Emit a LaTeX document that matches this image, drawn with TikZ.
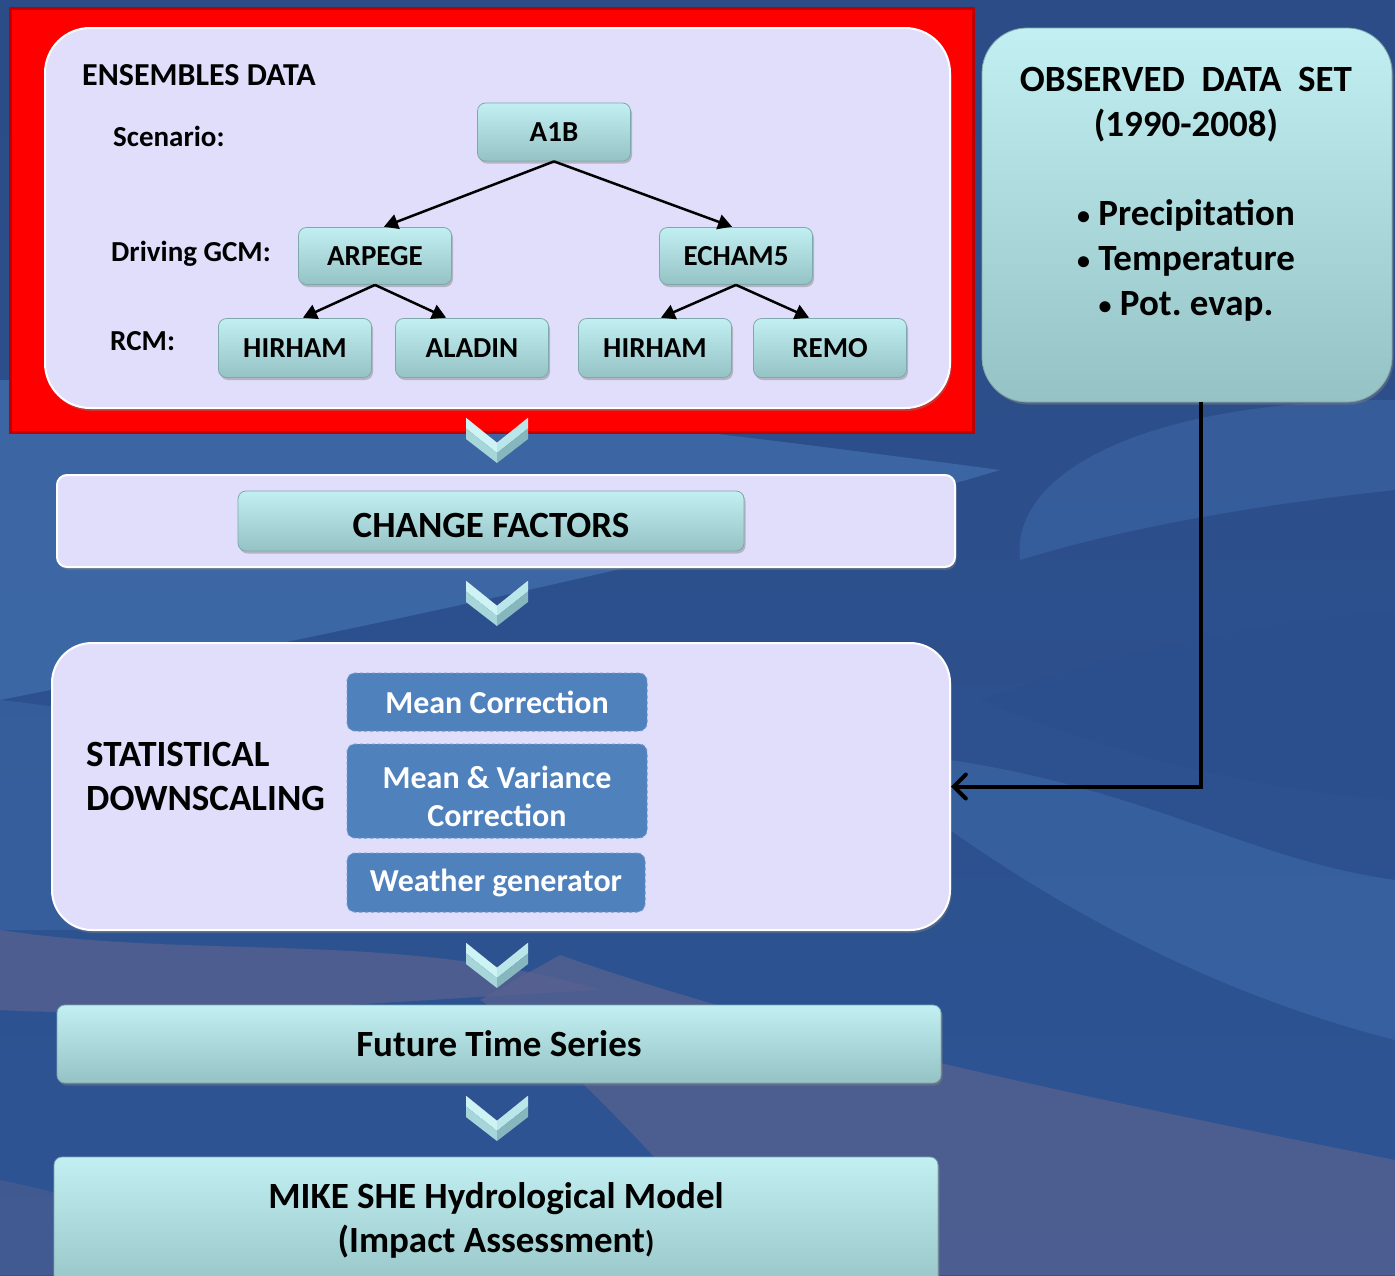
\documentclass[tikz,border=0pt]{standalone}
\usepackage{fontspec}
\setmainfont{Carlito}
\usetikzlibrary{arrows.meta,shadows}
\frenchspacing

\definecolor{bgtop}{HTML}{2B4C86}
\definecolor{bgmid}{HTML}{3E6DB4}
\definecolor{bgbot}{HTML}{2E5494}
\definecolor{bglight}{HTML}{5A92D2}
\definecolor{bgdark}{HTML}{2A4E8C}
\definecolor{bgpurple}{HTML}{5A6290}
\definecolor{tealtop}{HTML}{C2F0F2}
\definecolor{tealbot}{HTML}{95C3C5}
\definecolor{tealedge}{HTML}{7FA8AC}
\definecolor{lav}{HTML}{E0DEFA}
\definecolor{methodblue}{HTML}{4F81BD}
\definecolor{methodedge}{HTML}{6F98CA}
\definecolor{redframe}{HTML}{FF0000}
\definecolor{redborder}{HTML}{C00000}
\definecolor{chevA}{HTML}{CDF3F4}
\definecolor{chevB}{HTML}{A6D6DA}
\definecolor{chevC}{HTML}{B9E6E9}
\definecolor{chevD}{HTML}{86B6BE}

\newcommand{\fs}[1]{\fontsize{#1}{#1}\selectfont}
\newcommand{\smallbullet}{{\fontsize{26}{26}\selectfont\raisebox{1pt}{•}}}

\begin{document}
\begin{tikzpicture}[x=1pt,y=-1pt,
  tealbox/.style={rounded corners=8pt, draw=tealedge, line width=0.8pt,
    top color=tealtop, bottom color=tealbot,
    drop shadow={opacity=0.45, shadow xshift=1.5pt, shadow yshift=-2.5pt},
    inner sep=0pt, text=black, font=\bfseries\fs{29}},
  panel/.style={draw=white, line width=2pt, fill=lav,
    drop shadow={opacity=0.4, shadow xshift=1.5pt, shadow yshift=-3pt},
    inner sep=0pt},
  method/.style={rounded corners=8pt, fill=methodblue, draw=methodedge,
    dashed, line width=1pt, minimum width=300pt, inner sep=0pt,
    text=white, font=\bfseries\fontsize{32}{38}\selectfont, align=center},
  lbl/.style={anchor=west, inner sep=0pt, font=\bfseries\fs{29}},
  plain/.style={inner sep=0pt, align=center},
  treearrow/.style={line width=2.5pt, -{Triangle[length=14pt,width=15pt]},
    shorten >=1pt},
  chev/.pic={
    \fill[chevA] (-31,-22) -- (0,3) -- (0,13) -- (-31,-11.5) -- cycle;
    \fill[chevB] (-31,-11.5) -- (0,13) -- (0,23) -- (-31,-1) -- cycle;
    \fill[chevC] (31,-22) -- (0,3) -- (0,13) -- (31,-11.5) -- cycle;
    \fill[chevD] (31,-11.5) -- (0,13) -- (0,23) -- (31,-1) -- cycle;
    \draw[white, opacity=0.5, line width=0.6pt]
      (-31,-22) -- (0,3) -- (31,-22);
  }]

\useasboundingbox (0,0) rectangle (1395,1275);
\clip (0,0) rectangle (1395,1275);

% backdrop with soft bands
\shade[top color=bgtop, middle color=bgmid, bottom color=bgbot]
  (0,0) rectangle (1395,1275);
\fill[bglight, opacity=0.35]
  (0,380) .. controls (300,380) and (700,430) .. (1000,470)
  .. controls (700,560) and (300,640) .. (0,700) -- cycle;
\fill[bglight, opacity=0.2]
  (0,700) .. controls (200,720) and (400,800) .. (700,930)
  -- (0,930) -- cycle;
\fill[bglight, opacity=0.22]
  (1395,400) .. controls (1150,400) and (1010,470) .. (1020,560)
  .. controls (1150,520) and (1300,500) .. (1395,490) -- cycle;
\fill[bgdark, opacity=0.45]
  (980,700) .. controls (1150,640) and (1300,620) .. (1395,610)
  -- (1395,800) .. controls (1250,790) and (1100,750) .. (980,700) -- cycle;
\fill[bglight, opacity=0.22]
  (950,760) .. controls (1150,790) and (1250,860) .. (1395,880)
  -- (1395,1040) .. controls (1200,990) and (1050,900) .. (950,830) -- cycle;
\fill[bgpurple, opacity=0.75]
  (0,930) .. controls (200,960) and (400,930) .. (600,990)
  .. controls (400,1000) and (200,1020) .. (0,1010) -- cycle;
\fill[bgpurple, opacity=0.7]
  (560,955) .. controls (800,1040) and (1100,1100) .. (1395,1160)
  -- (1395,1275) -- (760,1275) .. controls (650,1150) and (560,1050) .. (480,1000) -- cycle;
\fill[bgpurple, opacity=0.45]
  (0,1180) .. controls (100,1200) and (200,1240) .. (300,1275) -- (0,1275) -- cycle;

% red frame behind the ensemble panel
\draw[fill=redframe, draw=redborder, line width=3pt] (10,8) rectangle (973,432);

% ensemble panel and tree
\node[panel, rounded corners=45pt, minimum width=905pt, minimum height=380pt]
  (ens) at (497.5,218) {};
\node[lbl, font=\bfseries\fs{32}] (enstitle) at (82,75) {ENSEMBLES DATA};
\node[lbl] (scen) at (113,136) {Scenario:};
\node[lbl] (gcm) at (111,254) {Driving GCM:};
\node[lbl] (rcm) at (110,341) {RCM:};

\node[tealbox, minimum width=153pt, minimum height=58pt] (a1b) at (554,132) {A1B};
\node[tealbox, minimum width=153pt, minimum height=57pt] (arpege) at (375,256) {ARPEGE};
\node[tealbox, minimum width=153pt, minimum height=57pt] (echam) at (736,256) {ECHAM5};
\node[tealbox, minimum width=153pt, minimum height=59pt] (hir1) at (295,348) {HIRHAM};
\node[tealbox, minimum width=153pt, minimum height=59pt] (alad) at (472,348) {ALADIN};
\node[tealbox, minimum width=153pt, minimum height=59pt] (hir2) at (655,348) {HIRHAM};
\node[tealbox, minimum width=153pt, minimum height=59pt] (remo) at (830,348) {REMO};

\draw[treearrow] (a1b.south) -- ([xshift=8pt]arpege.north);
\draw[treearrow] (a1b.south) -- ([xshift=-3pt]echam.north);
\draw[treearrow] (arpege.south) -- ([xshift=7pt]hir1.north);
\draw[treearrow] (arpege.south) -- ([xshift=-25pt]alad.north);
\draw[treearrow] (echam.south) -- ([xshift=5pt]hir2.north);
\draw[treearrow] (echam.south) -- ([xshift=-20pt]remo.north);

% observed data
\node[tealbox, rounded corners=45pt, minimum width=410pt, minimum height=374pt]
  (obs) at (1187,215) {};
\node[plain, font=\bfseries\fontsize{37}{45}\selectfont]
  (obstext) at (1186,194)
  {OBSERVED~~DATA~~SET\\(1990-2008)\\[44pt]
   \smallbullet\ Precipitation\\\smallbullet\ Temperature\\\smallbullet\ Pot. evap.};

% change factors
\pic at (497,440) {chev};
\node[panel, rounded corners=10pt, minimum width=898pt, minimum height=92pt]
  (cfpanel) at (506,521) {};
\node[tealbox, minimum width=506pt, minimum height=60pt] (cf) at (491,521) {};
\node[plain, font=\bfseries\fs{37}] (cftext) at (491,525) {CHANGE FACTORS};

% statistical downscaling
\pic at (497,603) {chev};
\node[panel, rounded corners=40pt, minimum width=898pt, minimum height=287pt]
  (stat) at (501,786.5) {};
\node[lbl, font=\bfseries\fontsize{37}{44}\selectfont, align=left]
  (stattitle) at (86,776) {STATISTICAL\\DOWNSCALING};
\node[method, minimum height=58pt] (mc) at (497,702) {Mean Correction};
\node[method, minimum height=94pt] (mv) at (497,791) {};
\node[plain, text=white, font=\bfseries\fontsize{32}{38}\selectfont]
  (mvtext) at (497,796) {Mean \& Variance\\Correction};
\node[method, minimum width=298pt, minimum height=59pt] (wg) at (496,882.5)
  {Weather generator};

% future series and impact model
\pic at (497,965) {chev};
\node[tealbox, minimum width=884pt, minimum height=78pt, font=\bfseries\fs{37}]
  (fts) at (499,1044) {Future Time Series};
\pic at (497,1118) {chev};
\node[tealbox, minimum width=884pt, minimum height=140pt] (mike) at (496,1227) {};
\node[plain, font=\bfseries\fontsize{37}{44}\selectfont]
  (miketext) at (496,1220)
  {MIKE SHE Hydrological Model\\(Impact Assessment{\fs{30})}};

% observed data feeds the downscaling step
\coordinate (bend) at (1201,786.5);
\draw[line width=4pt, -{Straight Barb[length=12pt,width=24pt,line cap=round]}]
  (obs.south -| bend) -- (bend) -- (stat.east);
\end{tikzpicture}
\end{document}
